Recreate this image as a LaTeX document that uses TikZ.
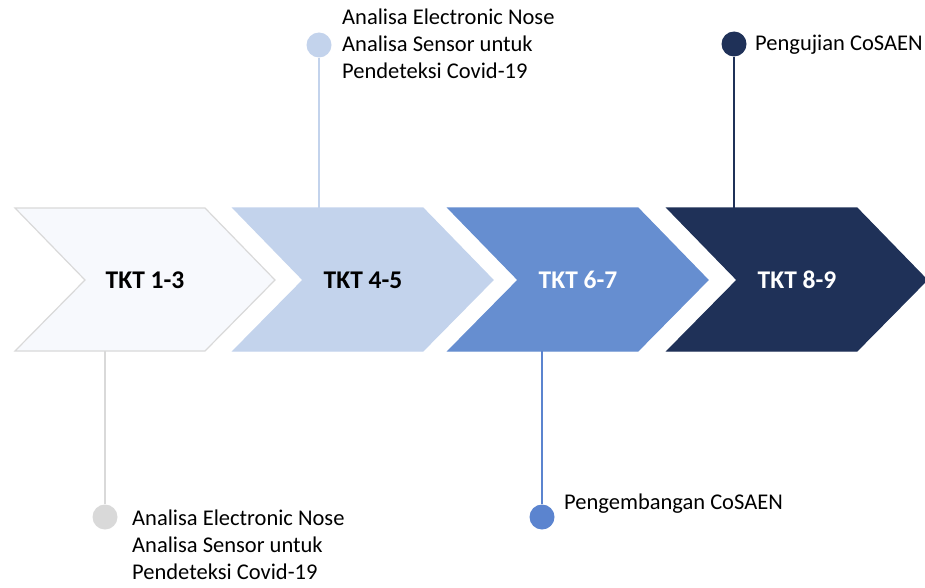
\documentclass[tikz,border=0pt]{standalone}
\usepackage{fontspec}
\setmainfont{Carlito}
\usepackage{tikz}
\usetikzlibrary{positioning}

\definecolor{tktA}{HTML}{F7F9FD}
\definecolor{tktB}{HTML}{C3D3EC}
\definecolor{tktC}{HTML}{668ED0}
\definecolor{tktD}{HTML}{1F3158}
\definecolor{edgeA}{HTML}{D9D9D9}
\definecolor{dotC}{HTML}{5B84CF}

\tikzset{
	tktlabel/.style={inner sep=0, font=\fontsize{25.5}{30}\selectfont\bfseries},
	dot/.style={circle, minimum size=25pt, inner sep=0},
	note/.style={inner sep=0, align=left, font=\fontsize{22.5}{27}\selectfont}
}

\begin{document}
\begin{tikzpicture}[x=1pt,y=-1pt]
	\useasboundingbox (0,0) rectangle (925,588);
	\foreach \j/\x/\cola/\colb/\colt/\name in {
		1/15/tktA/edgeA/black/TKT 1-3,
		2/233/tktB/tktB/black/TKT 4-5,
		3/448/tktC/tktC/white/TKT 6-7,
		4/667/tktD/tktD/white/TKT 8-9}
	{
		\filldraw[fill=\cola, draw=\colb, line width=1.2pt, line join=miter]
			(\x,208) -- (\x+190,208) -- (\x+260,280) -- (\x+190,351) -- (\x,351) -- (\x+70,280) -- cycle;
		\node[tktlabel, text=\colt] (k\j) at (\x+130,280) {\name};
	}
	\coordinate (e1) at (105,351);
	\coordinate (e2) at (319,208);
	\coordinate (e3) at (542,351);
	\coordinate (e4) at (734,208);
	\node[dot, fill=edgeA] (d1) at (105,517) {};
	\node[dot, fill=tktB] (d2) at (319,45) {};
	\node[dot, fill=dotC] (d3) at (542,517) {};
	\node[dot, fill=tktD] (d4) at (734,44) {};
	\draw[edgeA, line width=1.5pt] (d1) -- (e1);
	\draw[tktB, line width=1.5pt] (d2) -- (e2);
	\draw[dotC, line width=1.5pt] (d3) -- (e3);
	\draw[tktD, line width=1.5pt] (d4) -- (e4);
	\node[note, anchor=north west] (n1) at (132,510) {Analisa Electronic Nose\\Analisa Sensor untuk\\Pendeteksi Covid-19};
	\node[note, anchor=north west] (n2) at (342,9) {Analisa Electronic Nose\\Analisa Sensor untuk\\Pendeteksi Covid-19};
	\node[note, anchor=base west] (n3) at (564,509) {Pengembangan CoSAEN};
	\node[note, anchor=base west] (n4) at (755,51) {Pengujian CoSAEN};
\end{tikzpicture}
\end{document}
